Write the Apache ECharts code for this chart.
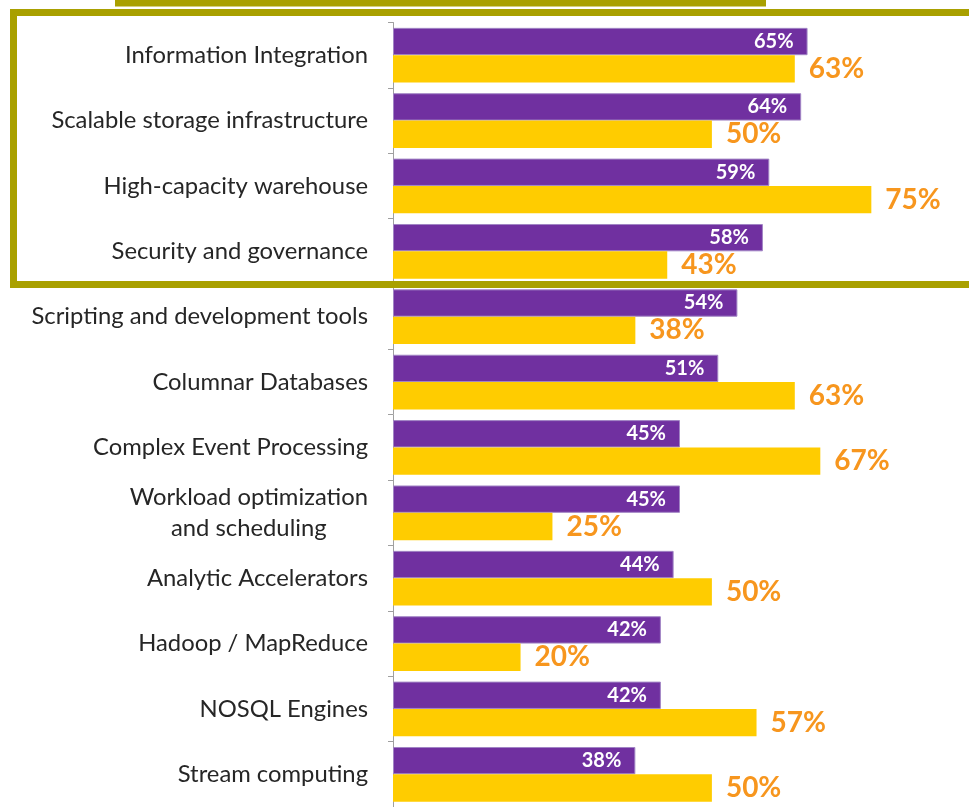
<!DOCTYPE html>
<html>
<head>
<meta charset="utf-8">
<style>html,body{margin:0;padding:0;background:#fff;}#c{width:969px;height:807px;}</style>
<script src="https://cdn.jsdelivr.net/npm/echarts@6/dist/echarts.min.js"></script>
</head>
<body>
<div id="c"></div>
<script>
var categories = [
  'Information Integration',
  'Scalable storage infrastructure',
  'High-capacity warehouse',
  'Security and governance',
  'Scripting and development tools',
  'Columnar Databases',
  'Complex Event Processing',
  'Workload optimization\nand scheduling',
  'Analytic Accelerators',
  'Hadoop / MapReduce',
  'NOSQL Engines',
  'Stream computing'
];
var purpleValues = [65, 64, 59, 58, 54, 51, 45, 45, 44, 42, 42, 38];
var yellowValues = [63, 50, 75, 43, 38, 63, 67, 25, 50, 20, 57, 50];

var chart = echarts.init(document.getElementById('c'), null, {renderer: 'canvas'});
var FONT = 'Lato, "Open Sans", sans-serif';
chart.setOption({
  animation: false,
  backgroundColor: '#ffffff',
  grid: {left: 393, top: 22.5, width: 574, height: 789.6},
  xAxis: {
    type: 'value', min: 0, max: 90, show: false
  },
  yAxis: {
    type: 'category', data: categories, inverse: true,
    axisLine: {show: true, lineStyle: {color: '#a0a0a0', width: 1}},
    axisTick: {show: true, length: 5, lineStyle: {color: '#a0a0a0'}},
    axisLabel: {
      margin: 25, color: '#262626', fontFamily: FONT, fontSize: 23.8, lineHeight: 31,
      formatter: function (v) {
        return v.split('\n').map(function (s) { return '{a|' + s + '}'; }).join('\n');
      },
      rich: {a: {align: 'center', fontFamily: FONT, fontSize: 23.8, color: '#262626', lineHeight: 31}}
    },
    splitLine: {show: false}
  },
  series: [
    {
      type: 'bar', data: purpleValues, barGap: '0%', barCategoryGap: '16.4%',
      itemStyle: {color: '#7030A0', borderColor: '#a184c4', borderWidth: 1},
      label: {show: true, position: 'insideRight', distance: 14, color: '#fff',
        fontFamily: FONT, fontWeight: 'bold', fontSize: 20, formatter: '{c}%'}
    },
    {
      type: 'bar', data: yellowValues,
      itemStyle: {color: '#FFCC00'},
      label: {show: true, position: 'right', distance: 14, color: '#F7961E',
        fontFamily: FONT, fontWeight: 'bold', fontSize: 28, formatter: '{c}%'}
    }
  ],
  graphic: [
    {type: 'rect', z: 100, shape: {x: 115, y: 0, width: 651, height: 6.5}, style: {fill: '#A9A000'}},
    {type: 'rect', z: 100, shape: {x: 13.5, y: 12.5, width: 1000, height: 272}, style: {fill: 'none', stroke: '#A9A000', lineWidth: 7}}
  ]
});
</script>
</body>
</html>
